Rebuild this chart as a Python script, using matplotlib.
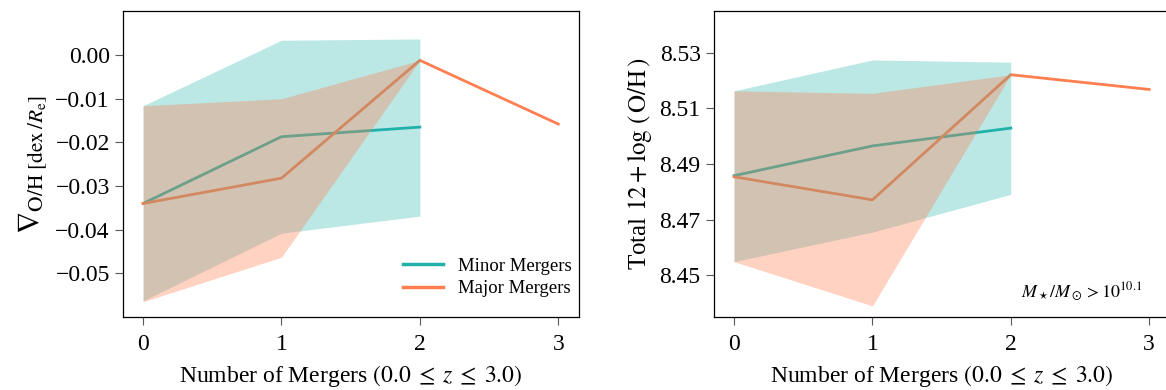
#!/usr/bin/env python3
"""Metallicity gradient / total metallicity vs number of mergers."""

import numpy as np
import matplotlib
matplotlib.use('Agg')
import matplotlib.pyplot as plt

plt.rcParams['font.family'] = ['Liberation Serif', 'DejaVu Serif']
plt.rcParams['mathtext.fontset'] = 'stix'

# Number of mergers
n_minor = [0, 1, 2]
n_major = [0, 1, 2, 3]

# Left panel: metallicity gradient (dex / R_e)
grad_minor = [-0.0340, -0.0187, -0.0165]
grad_minor_hi = [-0.0116, 0.0034, 0.0037]
grad_minor_lo = [-0.0563, -0.0408, -0.0369]
grad_major = [-0.0340, -0.0282, -0.0012, -0.0158]
grad_major_hi = [-0.0116, -0.0100, -0.0012, np.nan]
grad_major_lo = [-0.0565, -0.0463, -0.0012, np.nan]

# Right panel: total 12 + log(O/H)
oh_minor = [8.4858, 8.4965, 8.5029]
oh_minor_hi = [8.5163, 8.5274, 8.5266]
oh_minor_lo = [8.4549, 8.4655, 8.4791]
oh_major = [8.4854, 8.4771, 8.5221, 8.5168]
oh_major_hi = [8.5163, 8.5154, 8.5221, np.nan]
oh_major_lo = [8.4549, 8.4390, 8.5221, np.nan]

c_minor = '#20b2aa'
c_major = '#ff7f50'

fig = plt.figure(figsize=(11.66, 3.9), dpi=100)
ax1 = fig.add_axes([0.1055, 0.1872, 0.3911, 0.7846])
ax2 = fig.add_axes([0.6123, 0.1872, 0.3911, 0.7846])


def draw(ax, ymin, yhi, ylo, ymaj, ymaj_hi, ymaj_lo):
    ax.plot(n_minor, ymin, color=c_minor, lw=2, zorder=1, label='Minor Mergers')
    ax.plot(n_major, ymaj, color=c_major, lw=2, zorder=1, label='Major Mergers')
    ax.fill_between(n_minor, ylo, yhi, color=c_minor, alpha=0.3, lw=0, zorder=2)
    ax.fill_between(n_major, ymaj_lo, ymaj_hi, color=c_major, alpha=0.35, lw=0, zorder=2)
    ax.set_xticks([0, 1, 2, 3])
    ax.set_xlim(-0.145, 3.15)
    ax.tick_params(direction='out', length=6, width=0.8, color='0.35',
                   labelsize=17, top=False, right=False)
    ax.tick_params(axis='x', pad=6)
    ax.set_xlabel(r'Number of Mergers $(0.0\;\leq\;z\;\leq\;3.0)$', fontsize=17,
                  labelpad=6)
    for s in ax.spines.values():
        s.set_linewidth(0.9)


draw(ax1, grad_minor, grad_minor_hi, grad_minor_lo,
     grad_major, grad_major_hi, grad_major_lo)
ax1.set_ylim(-0.060, 0.0101)
ax1.set_yticks([0.0, -0.01, -0.02, -0.03, -0.04, -0.05])
ax1.set_yticklabels([f'{v:.2f}'.replace('-', '\u2212') for v in ax1.get_yticks()])
ax1.set_ylabel(r'$\nabla_{\mathrm{O/H}\ [\mathrm{dex}\,/R_\mathrm{e}]}$', fontsize=22)
leg = ax1.legend(loc='center left', frameon=False, fontsize=13.5,
                 handlelength=2.1, handletextpad=0.8, labelspacing=0.3,
                 bbox_to_anchor=(0.578, 0.129))
for h in leg.get_lines():
    h.set_linewidth(2.5)

draw(ax2, oh_minor, oh_minor_hi, oh_minor_lo,
     oh_major, oh_major_hi, oh_major_lo)
ax2.set_ylim(8.435, 8.545)
ax2.set_yticks([8.45, 8.47, 8.49, 8.51, 8.53])
ax2.set_yticklabels([f'{v:.2f}' for v in ax2.get_yticks()])
ax2.set_ylabel(r'Total $12 + \log\,(\,\mathrm{O/H}\,)$', fontsize=18)
ax2.text(0.939, 0.082, r'$M_\star/M_\odot > 10^{10.1}$', transform=ax2.transAxes,
         ha='right', va='center', fontsize=13)

fig.savefig('out.png', dpi=100)
